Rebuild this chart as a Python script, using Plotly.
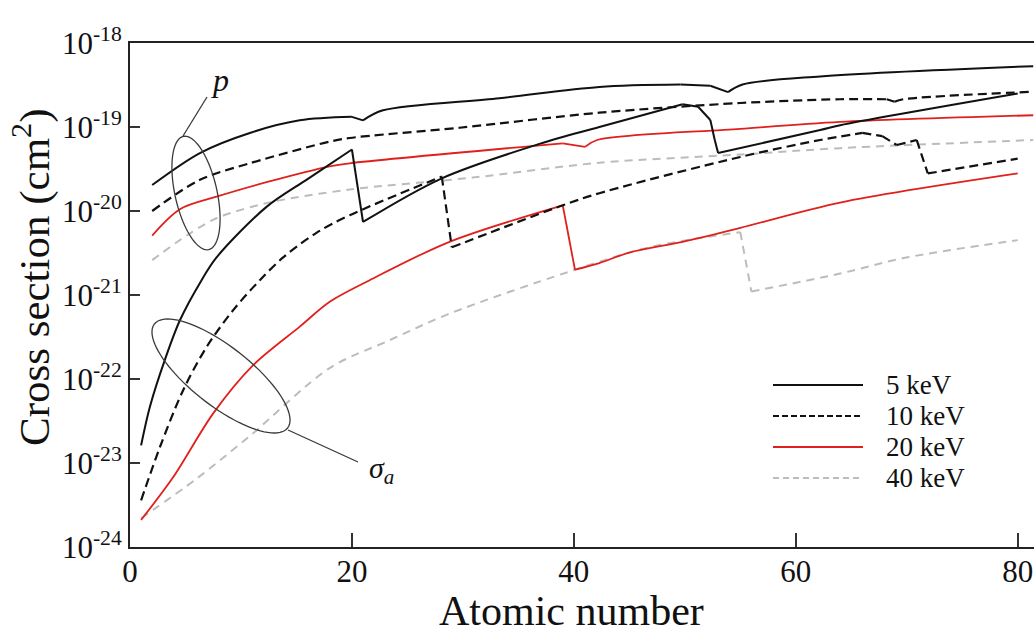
import math
import plotly.graph_objects as go

# ---------------------------------------------------------------
# Cross sections versus atomic number for four X-ray energies.
# p  : upper family of curves, sigma_a : lower family of curves
# ---------------------------------------------------------------

energies = ["5 keV", "10 keV", "20 keV", "40 keV"]

# p curves
z_p_5 = [2, 6.3, 10.8, 15.3, 20, 21, 22.8, 33.3, 42.3, 49.6, 52.3, 53.9, 55.2, 62.2, 81.4]
p_5 = [2.04e-20, 4.9e-20, 8.5e-20, 1.2e-19, 1.32e-19, 1.2e-19, 1.58e-19, 2.2e-19,
       3.0e-19, 3.2e-19, 3.1e-19, 2.6e-19, 3.2e-19, 4.0e-19, 5.3e-19]

z_p_10 = [2, 6.3, 10.8, 18, 19.8, 29.7, 42.3, 55, 64, 68.2, 68.9, 69.7, 81.4]
p_10 = [1.0e-20, 2.35e-20, 3.7e-20, 6.7e-20, 7.4e-20, 9.8e-20, 1.48e-19, 1.93e-19,
        2.14e-19, 2.14e-19, 2.0e-19, 2.14e-19, 2.63e-19]

z_p_20 = [2, 4.5, 7.8, 12.3, 18, 19.8, 39, 41, 42.1, 55, 64, 81.4]
p_20 = [5.1e-21, 1.05e-20, 1.48e-20, 2.2e-20, 3.4e-20, 3.7e-20, 6.4e-20, 5.8e-20,
        7.0e-20, 9.5e-20, 1.15e-19, 1.38e-19]

z_p_40 = [2, 5.1, 7.8, 12.3, 19.8, 30.9, 42.3, 55, 64, 81.4]
p_40 = [2.6e-21, 5.1e-21, 8.2e-21, 1.24e-20, 1.8e-20, 2.5e-20, 3.75e-20, 4.7e-20,
        5.6e-20, 7.0e-20]

# sigma_a curves
z_sa_5 = [1, 1.8, 3.15, 4.5, 6.45, 7.8, 12.3, 16, 20, 21, 28.1, 36.9, 42.3, 49.8,
          51.2, 52.3, 52.7, 53, 62.2, 64, 80]
sa_5 = [1.62e-23, 4.7e-23, 1.7e-22, 5.0e-22, 1.5e-21, 2.8e-21, 1.12e-20, 2.4e-20,
        5.4e-20, 7.4e-21, 2.45e-20, 6.3e-20, 1.0e-19, 1.87e-19, 1.74e-19, 1.21e-19,
        7.0e-20, 4.9e-20, 9.2e-20, 1.05e-19, 2.5e-19]

z_sa_10 = [1, 2.7, 4.8, 6.9, 9.3, 11.7, 13.8, 16.8, 19.8, 28.1, 29, 39, 42.3, 55,
           62.2, 66, 67.8, 69.1, 70.9, 71.9, 80]
sa_10 = [3.6e-24, 1.55e-23, 7.4e-23, 2.4e-22, 6.6e-22, 1.5e-21, 2.8e-21, 5.5e-21,
         8.9e-21, 2.57e-20, 3.7e-21, 1.17e-20, 1.63e-20, 4.4e-20, 7.0e-20, 8.5e-20,
         7.8e-20, 6.1e-20, 7.0e-20, 2.8e-20, 4.2e-20]

z_sa_20 = [1, 3.9, 7.5, 11.1, 15.3, 18, 21.6, 28.8, 39, 40.1, 42.3, 45, 49.8, 55, 64, 80]
sa_20 = [2.1e-24, 6.8e-24, 3.9e-23, 1.46e-22, 4.2e-22, 8.3e-22, 1.5e-21, 4.3e-21,
         1.17e-20, 2.0e-21, 2.4e-21, 3.2e-21, 4.3e-21, 6.3e-21, 1.26e-20, 2.8e-20]

z_sa_40 = [1, 6, 10.8, 18, 23.4, 28.8, 39.6, 46.8, 55, 56, 64, 69.7, 80]
sa_40 = [2.2e-24, 6.5e-24, 2.1e-23, 1.35e-22, 2.9e-22, 6.0e-22, 1.9e-21, 3.7e-21,
         5.6e-21, 1.1e-21, 1.8e-21, 2.75e-21, 4.5e-21]

x_ticks = [0, 20, 40, 60, 80]
y_exponents = [-24, -23, -22, -21, -20, -19, -18]

# line styles per energy
styles = {
    "5 keV": dict(color="#111111", width=2.0, dash="solid"),
    "10 keV": dict(color="#111111", width=2.2, dash="9px,5px"),
    "20 keV": dict(color="#e0201c", width=1.8, dash="solid"),
    "40 keV": dict(color="#bcbcbc", width=2.0, dash="8px,6px"),
}

series = [
    ("5 keV", z_p_5, p_5), ("10 keV", z_p_10, p_10),
    ("20 keV", z_p_20, p_20), ("40 keV", z_p_40, p_40),
    ("5 keV", z_sa_5, sa_5), ("10 keV", z_sa_10, sa_10),
    ("20 keV", z_sa_20, sa_20), ("40 keV", z_sa_40, sa_40),
]


def split_pieces(zs, vals):
    """Rising stretches are drawn smooth; falling edges (absorption edges,
    small dips) are drawn as straight segments."""
    pieces = []
    cur = [0]
    for i in range(len(zs) - 1):
        if vals[i + 1] < vals[i]:
            if len(cur) > 1:
                pieces.append(("spline", cur))
            pieces.append(("linear", [i, i + 1]))
            cur = [i + 1]
        else:
            cur.append(i + 1)
    if len(cur) > 1:
        pieces.append(("spline", cur))
    return pieces


fig = go.Figure()
# gray and red curves first so the black ones sit on top
order = ["40 keV", "20 keV", "10 keV", "5 keV"]
for name in order:
    for n, zs, vals in series:
        if n != name:
            continue
        for shape, idx in split_pieces(zs, vals):
            fig.add_trace(go.Scatter(
                x=[zs[i] for i in idx], y=[vals[i] for i in idx],
                mode="lines", name=n, legendgroup=n,
                line=dict(styles[n], shape=shape, smoothing=0.9 if shape == "spline" else None),
                showlegend=False, hoverinfo="skip",
            ))

# plot-area geometry (pixels) used for annotation placement
L, R, T, B = 130, 1034, 43, 547


def px(x):
    return (x - L) / (R - L)


def py(y):
    return (B - y) / (B - T)


def ellipse_path(cx, cy, a, b, theta_deg, n=90):
    th = math.radians(theta_deg)
    pts = []
    for i in range(n):
        t = 2 * math.pi * i / n
        x = cx + a * math.cos(th) * math.cos(t) - b * math.sin(th) * math.sin(t)
        y = cy + a * math.sin(th) * math.cos(t) + b * math.cos(th) * math.sin(t)
        pts.append(f"{px(x):.5f},{py(y):.5f}")
    return "M " + " L ".join(pts) + " Z"


ann_line = dict(color="#3a3a3a", width=1.3)
shapes = [
    dict(type="path", xref="paper", yref="paper",
         path=ellipse_path(196, 193, 58, 21, 77.4), line=ann_line),
    dict(type="line", xref="paper", yref="paper",
         x0=px(183), y0=py(136), x1=px(207), y1=py(97), line=ann_line),
    dict(type="path", xref="paper", yref="paper",
         path=ellipse_path(221, 376, 84.5, 29.6, 38), line=ann_line),
    dict(type="line", xref="paper", yref="paper",
         x0=px(288), y0=py(430), x1=px(358), y1=py(462), line=ann_line),
]

serif = "Liberation Serif, Times New Roman, serif"
annotations = [
    dict(text="<i>p</i>", x=px(220), y=py(80), xref="paper", yref="paper",
         showarrow=False, font=dict(size=32, family=serif, color="#111"),
         xanchor="center", yanchor="middle"),
    dict(text="<i>σ<sub>a</sub></i>", x=px(381), y=py(470), xref="paper", yref="paper",
         showarrow=False, font=dict(size=30, family=serif, color="#111"),
         xanchor="center", yanchor="middle"),
    dict(text="Atomic number", x=px(571), y=py(611), xref="paper", yref="paper",
         showarrow=False, font=dict(size=42, family=serif, color="#111"),
         xanchor="center", yanchor="middle"),
    dict(text="Cross section (cm<sup>2</sup>)", x=px(31), y=py(277),
         xref="paper", yref="paper", textangle=-90, showarrow=False,
         font=dict(size=43, family=serif, color="#111"),
         xanchor="center", yanchor="middle"),
]

# legend: sample line plus label for each energy
legend_rows = [385, 416, 447, 478]
legend_dash = {"5 keV": "solid", "10 keV": "6px,3px", "20 keV": "solid", "40 keV": "6px,4px"}
for name, row in zip(energies, legend_rows):
    st = styles[name]
    shapes.append(dict(type="line", xref="paper", yref="paper",
                       x0=px(773), x1=px(863), y0=py(row), y1=py(row),
                       line=dict(color=st["color"], width=st["width"],
                                 dash=legend_dash[name])))
    annotations.append(dict(text=name, x=px(884), y=py(row), xref="paper", yref="paper",
                            showarrow=False, xanchor="left", yanchor="middle",
                            font=dict(size=27, family=serif, color="#111")))

fig.update_layout(
    width=1034, height=635,
    margin=dict(l=L, r=1034 - R, t=T, b=635 - B),
    plot_bgcolor="white", paper_bgcolor="white",
    showlegend=False,
    font=dict(family=serif, color="#111"),
    shapes=shapes, annotations=annotations,
    xaxis=dict(
        range=[0, 81.47], tickvals=x_ticks, ticktext=[str(v) for v in x_ticks],
        ticks="inside", ticklen=14, tickwidth=1.5, tickcolor="#333",
        ticklabelstandoff=-4,
        showline=True, linewidth=2, linecolor="#222", mirror=True,
        showgrid=False, zeroline=False,
        tickfont=dict(size=31, family=serif, color="#111"),
    ),
    yaxis=dict(
        type="log", range=[-24, -18],
        tickvals=[10.0 ** e for e in y_exponents],
        ticktext=[f"10<sup>{e}</sup>" for e in y_exponents],
        ticks="inside", ticklen=10, tickwidth=1.5, tickcolor="#333",
        showline=True, linewidth=2, linecolor="#222", mirror=False,
        showgrid=False, zeroline=False,
        tickfont=dict(size=31, family=serif, color="#111"),
    ),
)

fig.write_html("out.html")
